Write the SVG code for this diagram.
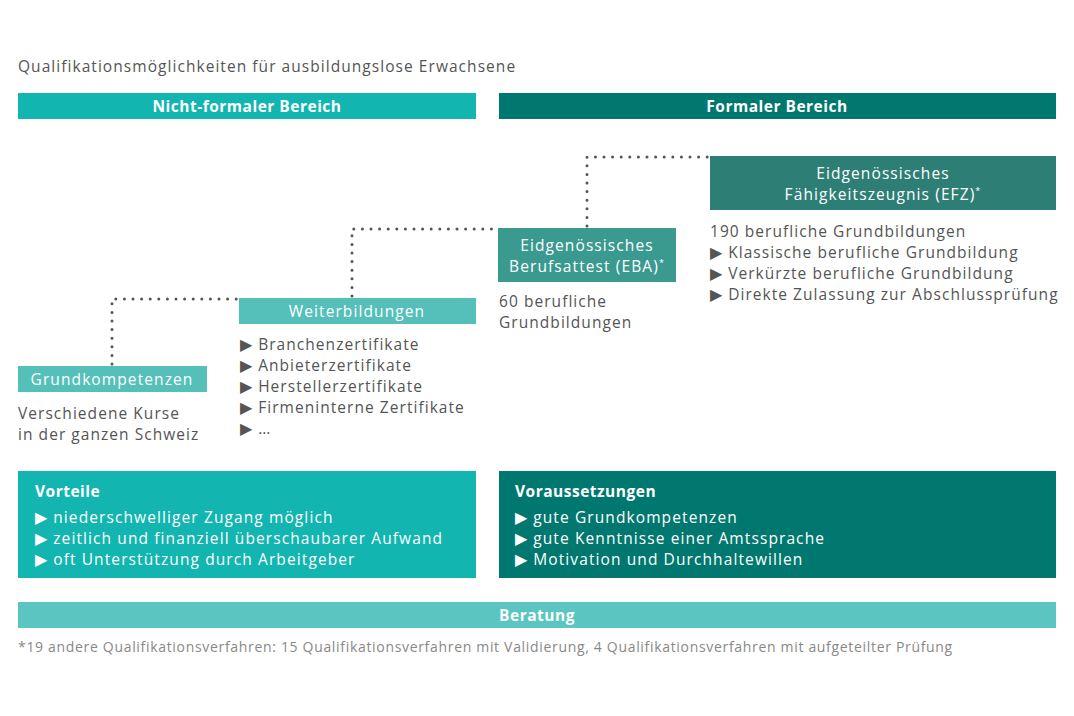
<svg xmlns="http://www.w3.org/2000/svg" width="1074" height="716" viewBox="0 0 1074 716">
<style>
text{font-family:"Open Sans","Noto Sans",sans-serif;}
.t{font-size:15.5px;fill:#555;letter-spacing:1.05px;}
.w{font-size:15.5px;fill:#fff;letter-spacing:1.1px;}
.b{font-size:15.5px;fill:#fff;font-weight:bold;letter-spacing:0.5px;}
.c{text-anchor:middle;}
.fn{font-size:14px;fill:#888;letter-spacing:0.68px;}
.dot{fill:none;stroke:#555;stroke-width:3;stroke-linecap:round;stroke-dasharray:0 8.6;}
</style>
<rect width="1074" height="716" fill="#fff"/>
<text class="t" x="18" y="72">Qualifikationsmöglichkeiten für ausbildungslose Erwachsene</text>
<g id="hdr-nf"><rect x="18" y="93" width="458" height="26" fill="#12b5b0"/><text class="b c" x="247" y="111.5">Nicht-formaler Bereich</text></g>
<g id="hdr-f"><rect x="499" y="93" width="557" height="26" fill="#00786f"/><text class="b c" x="777" y="111.5">Formaler Bereich</text></g>
<g id="connectors">
<path class="dot" d="M112 364 V299 H238"/>
<path class="dot" d="M352 296 V229 H497"/>
<path class="dot" d="M587 226 V157 H708"/>
</g>
<g id="efz"><rect x="710" y="156" width="346" height="54" fill="#2d7f76"/><text class="w c" x="883" y="179">Eidgenössisches</text><text class="w c" x="883" y="200">Fähigkeitszeugnis (EFZ)<tspan font-size="9" dy="-6">*</tspan></text>
<text class="t" x="710" y="237">190 berufliche Grundbildungen</text>
<text class="t" x="710" y="258">▶ Klassische berufliche Grundbildung</text>
<text class="t" x="710" y="279">▶ Verkürzte berufliche Grundbildung</text>
<text class="t" x="710" y="300">▶ Direkte Zulassung zur Abschlussprüfung</text></g>
<g id="eba"><rect x="498" y="228" width="178" height="54" fill="#3a9a90"/><text class="w c" x="587" y="251">Eidgenössisches</text><text class="w c" x="587" y="272">Berufsattest (EBA)<tspan font-size="9" dy="-6">*</tspan></text>
<text class="t" x="499" y="307">60 berufliche</text>
<text class="t" x="499" y="328">Grundbildungen</text></g>
<g id="weiter"><rect x="239" y="298" width="237" height="26" fill="#55c0ba"/><text class="w c" x="357" y="317">Weiterbildungen</text>
<text class="t" x="240" y="350">▶ Branchenzertifikate</text>
<text class="t" x="240" y="371">▶ Anbieterzertifikate</text>
<text class="t" x="240" y="392">▶ Herstellerzertifikate</text>
<text class="t" x="240" y="413">▶ Firmeninterne Zertifikate</text>
<text class="t" x="240" y="434">▶ …</text></g>
<g id="grund"><rect x="18" y="366" width="189" height="26" fill="#55c0ba"/><text class="w c" x="112" y="385">Grundkompetenzen</text>
<text class="t" x="18" y="419">Verschiedene Kurse</text>
<text class="t" x="18" y="440">in der ganzen Schweiz</text></g>
<g id="vorteile"><rect x="18" y="471" width="458" height="107" fill="#12b5b0"/>
<text class="b" x="35" y="497">Vorteile</text>
<text class="w" x="35" y="523">▶ niederschwelliger Zugang möglich</text>
<text class="w" x="35" y="544">▶ zeitlich und finanziell überschaubarer Aufwand</text>
<text class="w" x="35" y="565">▶ oft Unterstützung durch Arbeitgeber</text></g>
<g id="voraus"><rect x="499" y="471" width="557" height="107" fill="#00786f"/>
<text class="b" x="515" y="497">Voraussetzungen</text>
<text class="w" x="515" y="523">▶ gute Grundkompetenzen</text>
<text class="w" x="515" y="544">▶ gute Kenntnisse einer Amtssprache</text>
<text class="w" x="515" y="565">▶ Motivation und Durchhaltewillen</text></g>
<g id="beratung"><rect x="18" y="602" width="1038" height="26" fill="#5bc5c1"/><text class="b c" x="537" y="621">Beratung</text></g>
<text class="fn" x="18" y="652">*19 andere Qualifikationsverfahren: 15 Qualifikationsverfahren mit Validierung, 4 Qualifikationsverfahren mit aufgeteilter Prüfung</text>
</svg>
